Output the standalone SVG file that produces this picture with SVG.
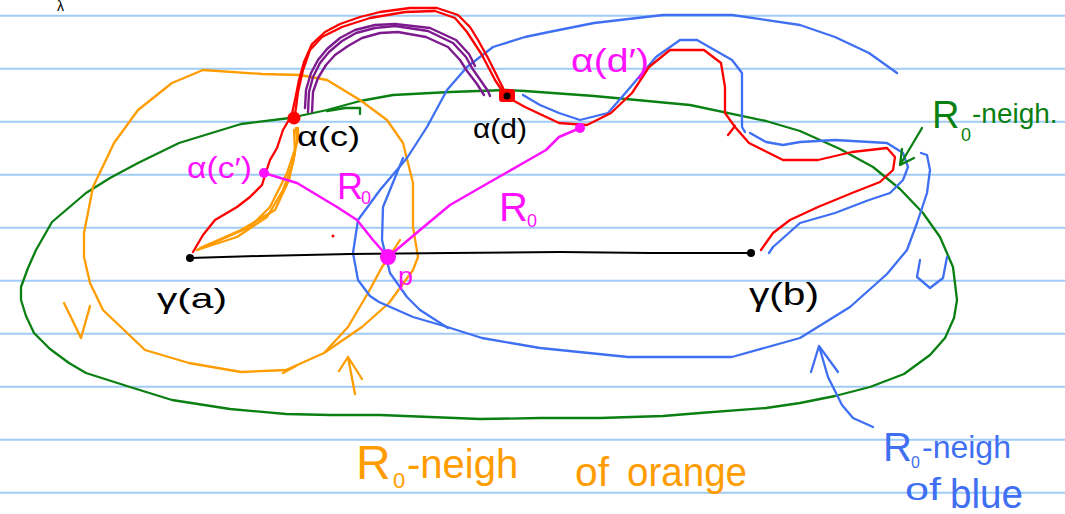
<svg xmlns="http://www.w3.org/2000/svg" width="1065" height="514" viewBox="0 0 1065 514">
<style>
.rule{stroke:#9fcbf5;stroke-width:2;fill:none}
.s{fill:none;stroke-linecap:round;stroke-linejoin:round}
.g{stroke:#0a7f12;stroke-width:2.3}
.o{stroke:#ff9c00;stroke-width:2.3}
.b{stroke:#3f6ff2;stroke-width:2.3}
.r{stroke:#ff0000;stroke-width:2.3}
.p{stroke:#7c1a8e;stroke-width:2.4}
.m{stroke:#ff10ff;stroke-width:2.5}
.k{stroke:#000;stroke-width:2}
text{font-family:"Liberation Sans",Arial,sans-serif}
.tk{fill:#000}
.tm{fill:#ff10ff}
.tg{fill:#0a7f12}
.to{fill:#ff9c00}
.tb{fill:#3f6ff2}
</style>
<rect width="1065" height="514" fill="#fff"/>
<g id="paper">
<line class="rule" x1="0" y1="15.7" x2="1065" y2="15.7"/>
<line class="rule" x1="0" y1="68.7" x2="1065" y2="68.7"/>
<line class="rule" x1="0" y1="121.7" x2="1065" y2="121.7"/>
<line class="rule" x1="0" y1="174.7" x2="1065" y2="174.7"/>
<line class="rule" x1="0" y1="227.7" x2="1065" y2="227.7"/>
<line class="rule" x1="0" y1="280.7" x2="1065" y2="280.7"/>
<line class="rule" x1="0" y1="333.7" x2="1065" y2="333.7"/>
<line class="rule" x1="0" y1="386.7" x2="1065" y2="386.7"/>
<line class="rule" x1="0" y1="439.7" x2="1065" y2="439.7"/>
<line class="rule" x1="0" y1="492.7" x2="1065" y2="492.7"/>
</g>
<text class="tk" x="57" y="11" font-size="14">λ</text>

<g id="green-neighbourhood">
<path class="s g" d="M 290,118 L 327,110 L 360,101 L 393,95 L 450,92 L 507,90 L 525,91 L 594,96 L 690,105 L 766,121 L 800,131 L 840,149 L 873,167 L 900,189 L 923,213 L 940,237 L 953,267 L 957,300 L 954,318 L 945,338 L 930,355 L 904,374 L 870,387 L 835,396 L 800,403 L 766,408 L 700,413 L 663,416 L 600,418 L 540,418 L 480,419 L 430,417 L 380,415 L 330,415 L 286,414 L 230,409 L 172,400 L 130,387 L 86,373 L 69,363 L 50,349 L 34,333 L 26,316 L 21,300 L 21,287 L 28,268 L 36,250 L 52,222 L 86,193 L 110,178 L 138,163 L 179,143 L 241,124 L 290,118"/>
<path class="s g" d="M 327,111 L 345,108 L 360,108 L 360,114"/>
</g>

<g id="orange-neighbourhood">
<path class="s o" d="M 418,257 L 413,227 L 413,183 L 403,143 L 387,120 L 360,100 L 327,80 L 300,75 L 262,74 L 203,70 L 172,83 L 138,110 L 114,143 L 93,187 L 84,233 L 84,257 L 90,283 L 103,310 L 145,350 L 189,363 L 241,372 L 286,370 L 324,353 L 362,327 L 389,303 L 413,270 L 418,257"/>
<path class="s o" d="M 325,352 L 348,327 L 368,293 L 382,267 L 389,257 L 400,240"/>
<path class="s o" d="M 283,373 L 296,366"/>
<path class="s o" d="M 197,250 L 237,237 L 267,217 L 283,190 L 293,163 L 297,140 L 296,128"/>
<path class="s o" d="M 197,250 L 250,227 L 270,207 L 287,173 L 298,140 L 298,128"/>
<path class="s o" d="M 200,248 L 241,230 L 275,210 L 289,180 L 295,152 L 294,130"/>
<path class="s o" d="M 64,303 L 81,338 L 90,306"/>
<path class="s o" d="M 339,371 L 348,357 L 362,379 M 348,357 L 355,394"/>
</g>

<g id="blue-neighbourhood">
<path class="s b" d="M 897,73 L 869,53 L 835,37 L 800,25 L 732,15 L 663,15 L 594,23 L 549,32 L 525,37 L 493,47 L 467,67 L 447,90 L 427,127 L 407,158 L 380,190 L 358,220 L 353,253 L 358,280 L 370,296 L 379,302 L 413,317 L 444,326 L 482,338 L 540,348 L 628,357 L 732,357 L 800,338 L 850,307 L 887,274 L 907,250 L 917,223 L 927,193 L 930,170 L 927,155 L 921,153"/>
<path class="s b" d="M 403,158 L 392,185 L 383,207 L 382,240 L 390,273 L 407,297 L 420,310 L 448,328"/>
<path class="s b" d="M 920,260 L 917,277 L 930,288 L 943,278 L 947,257"/>
<path class="s b" d="M 873,427 L 853,418 L 842,405 L 828,377 L 819,346 M 811,372 L 819,346 L 838,372"/>
</g>

<g id="blue-path">
<path class="s b" d="M 523,95 L 540,105 L 559,113 L 580,120 L 608,113 L 628,90 L 656,57 L 680,40 L 697,40 L 732,60 L 742,73 L 742,127 L 745,132"/>
<path class="s b" d="M 750,133 L 766,142 L 783,145 L 800,142 L 835,140 L 887,143 L 903,153 L 908,167 L 903,180 L 890,193 L 869,200 L 835,213 L 800,223 L 773,247 L 769,253"/>
</g>

<g id="geodesic">
<path class="s k" d="M 190,258 L 260,256 L 350,254 L 450,253 L 560,252 L 650,253 L 752,253"/>
</g>

<g id="red-path">
<path class="s r" d="M 290,118 L 283,130 L 277,148 L 270,160 L 266,172 L 262,185 L 250,197 L 237,207 L 215,220 L 203,235 L 193,252"/>
<path class="s r" stroke-width="4.5" d="M 291,118 L 295,100 L 299,80 L 304,62 L 312,44 L 325,32 L 340,24 L 360,17 L 380,12 L 410,8 L 437,8 L 458,15 L 470,27 L 478,40 L 488,58 L 497,76 L 503,88 L 507,96"/>
<path class="s r" stroke-width="2.5" d="M 295,115 L 298,92 L 303,70 L 310,50 L 322,37 L 342,27 L 370,18 L 405,12 L 435,11 L 455,18 L 467,32 L 482,55 L 495,80 L 505,95"/>
<path class="s r" d="M 507,97 L 525,107 L 559,123 L 587,125 L 611,113 L 632,93 L 649,67 L 670,50 L 704,50 L 721,63 L 725,87 L 725,113 L 735,127 L 749,143 L 783,160 L 818,160 L 852,152 L 887,148 L 895,157 L 893,170 L 880,182 L 852,193 L 818,207 L 790,220 L 773,233 L 761,250"/>
<path class="s r" d="M 735,126 L 728,135"/>
</g>

<g id="purple-path">
<path class="s p" d="M 308,112 L 309,92 L 313,77 L 320,63 L 329,52 L 342,41 L 356,33 L 375,28 L 395,26 L 428,31 L 453,43 L 466,57 L 472,68 L 481,81 L 488,91 L 490,96"/>
<path class="s p" d="M 312,112 L 313,92 L 318,78 L 326,65 L 335,55 L 348,46 L 362,38 L 380,33 L 398,32 L 426,37 L 448,47 L 460,60 L 467,71 L 477,84 L 484,95"/>
<path class="s p" d="M 305,108 L 306,90 L 311,73 L 318,60 L 327,49 L 340,38 L 355,30 L 375,25 L 395,24 L 430,28 L 456,40 L 469,54 L 475,66"/>
</g>

<g id="radius-lines">
<path class="s m" d="M 264,173 L 297,183 L 337,207 L 357,220 L 373,240 L 388,257"/>
<path class="s m" d="M 388,257 L 420,230 L 450,205 L 490,182 L 525,162 L 546,150 L 559,137 L 580,128"/>
</g>

<g id="green-arrow">
<path class="s g" d="M 922,128 L 900,165 M 902,149 L 900,165 L 914,158"/>
</g>

<g id="points">
<circle cx="294" cy="118" r="6.5" fill="#ff0000"/>
<rect x="499" y="89" width="16" height="13" rx="3" fill="#ff0000"/>
<circle cx="507" cy="96" r="3.5" fill="#000"/>
<circle cx="190" cy="258" r="4" fill="#000"/>
<circle cx="751" cy="253" r="4" fill="#000"/>
<circle cx="264" cy="173" r="5" fill="#ff10ff"/>
<circle cx="388" cy="257" r="8" fill="#ff10ff"/>
<circle cx="580" cy="128" r="5" fill="#ff10ff"/>
<circle cx="333" cy="236" r="1.5" fill="#ff0000"/>
</g>

<g id="labels">
<text class="tk" x="297" y="146" font-size="27" textLength="63" lengthAdjust="spacingAndGlyphs">α(c)</text>
<text class="tk" x="473" y="138" font-size="28" textLength="54" lengthAdjust="spacingAndGlyphs">α(d)</text>
<text class="tk" x="157" y="308" font-size="28" textLength="70" lengthAdjust="spacingAndGlyphs">γ(a)</text>
<text class="tk" x="749" y="305" font-size="32" textLength="70" lengthAdjust="spacingAndGlyphs">γ(b)</text>
<text class="tm" x="187" y="178" font-size="30" textLength="65" lengthAdjust="spacingAndGlyphs">α(c′)</text>
<text class="tm" x="571" y="72" font-size="34" textLength="78" lengthAdjust="spacingAndGlyphs">α(d′)</text>
<text class="tm" font-size="36"><tspan x="337" y="199">R</tspan><tspan x="361" y="204" font-size="18">0</tspan></text>
<text class="tm" font-size="40"><tspan x="499" y="221">R</tspan><tspan x="527" y="227" font-size="18">0</tspan></text>
<text class="tm" x="398" y="285" font-size="26" textLength="15" lengthAdjust="spacingAndGlyphs">p</text>
<text class="tg" font-size="38"><tspan x="932" y="128">R</tspan><tspan x="961" y="141" font-size="18">0</tspan><tspan x="972" y="123" font-size="28">-neigh.</tspan></text>
<text class="to" font-size="48"><tspan x="356" y="479">R</tspan><tspan x="393" y="488" font-size="22">0</tspan><tspan x="407" y="478" font-size="40">-neigh</tspan></text>
<text class="to" x="575" y="486" font-size="40" textLength="34" lengthAdjust="spacingAndGlyphs">of</text>
<text class="to" x="627" y="486" font-size="40" textLength="120" lengthAdjust="spacingAndGlyphs">orange</text>
<text class="tb" font-size="40"><tspan x="883" y="461">R</tspan><tspan x="911" y="468" font-size="16">0</tspan><tspan x="922" y="458" font-size="32">-neigh</tspan></text>
<text class="tb" x="905" y="500" font-size="32" textLength="36" lengthAdjust="spacingAndGlyphs">of</text>
<text class="tb" x="950" y="508" font-size="40" textLength="73" lengthAdjust="spacingAndGlyphs">blue</text>
</g>
</svg>
